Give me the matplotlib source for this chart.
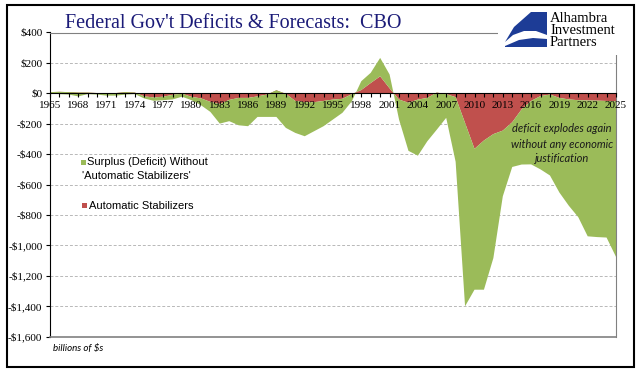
import matplotlib.pyplot as plt
import numpy as np
from matplotlib.patches import Rectangle, Polygon

# fiscal years, billions of $
years = list(range(1965, 2026))

stabilizers = [8, 10, 8, 5, 5, 2, 0, 2, 8, 5,
               -20, -27, -22, -10, -2, -23, -33, -56, -70, -43,
               -30, -30, -20, -8, 20, -3, -50, -58, -58, -50,
               -41, -36, -5, 22, 68, 112, 33, -41, -62, -41,
               -30, 5, -5, -25, -195, -365, -310, -268, -245, -190,
               -105, -50, -18, -8, -30, -40, -45, -47, -48, -50,
               -52]

without_stabilizers = [-11, -15, -16, -25, -10, -10, -15, -17, -16, -10,
                       -14, -22, -23, -30, -20, -22, -45, -66, -129, -140,
                       -180, -186, -135, -147, -175, -224, -210, -224, -191, -166,
                       -131, -92, -47, 58, 67, 121, 91, -131, -316, -369,
                       -285, -244, -156, -425, -1205, -926, -981, -815, -432, -294,
                       -363, -417, -482, -532, -622, -699, -769, -893, -897, -898,
                       -1023]

yticks = list(range(-1600, 401, 200))
year_labels = [str(y) if (y - 1965) % 3 == 0 else '' for y in years]

GREEN = '#9BBB59'
RED = '#C0504D'
NAVY = '#1b1b78'
W, H = 641, 375

def fx(x):
    return x / W

def fy(y):
    return 1 - y / H

fig = plt.figure(figsize=(W / 100, H / 100), dpi=100)
ax = fig.add_axes([fx(50), fy(336.7), (616 - 50) / W, (336.7 - 32.5) / H])
ax.set_axisbelow(False)  # year labels sit on top of the areas

# spine position first, it resets the ticks
ax.spines['bottom'].set_position(('data', 0))
ax.spines['bottom'].set_color('black')
ax.spines['bottom'].set_zorder(4)
ax.spines['left'].set_color('black')
ax.spines['top'].set_color('#808080')
ax.spines['right'].set_color('#808080')

ax.stackplot(years, stabilizers, without_stabilizers, colors=[RED, GREEN],
             linewidth=0, zorder=2)
ax.set_xlim(1965, 2025)
ax.set_ylim(-1600, 400)

for v in yticks:
    if v not in (0, 400, -1600):
        ax.axhline(v, color='#b8b8b8', lw=0.7, ls=(0, (3, 2)), zorder=1)
ax.axhline(-1600, color='#808080', lw=1.2, zorder=3, clip_on=False)

ax.set_yticks(yticks, [f'${v:,}' if v >= 0 else f'-${-v:,}' for v in yticks])
ax.set_xticks(years, year_labels)
ax.tick_params(axis='y', direction='out', length=3, pad=2.5, width=0.8, labelsize=8,
               labelfontfamily='Liberation Serif')
ax.tick_params(axis='x', direction='out', length=3, pad=2.5, width=0.8, labelsize=8,
               labelfontfamily='Liberation Serif')

# title
fig.text(fx(65), fy(28.5), "Federal Gov't Deficits & Forecasts:  CBO", family='Liberation Serif',
         fontsize=14.5, color=NAVY, va='baseline')

# logo box
fig.add_artist(Rectangle((fx(498), fy(55)), 132 / W, 49 / H, transform=fig.transFigure,
                         fc='white', ec='none', zorder=10))
upper = [(531, 12), (547, 12), (547, 35), (536, 31), (524, 31), (513, 35), (505, 42), (514, 27)]
lower = [(505, 47), (547, 47), (547, 39), (533, 38), (519, 40), (505, 46)]
for pts in (upper, lower):
    fig.add_artist(Polygon([(fx(x), fy(y)) for x, y in pts], closed=True, transform=fig.transFigure,
                           fc='#1d3c96', ec='none', zorder=11))
for txt, yb in (('Alhambra', 21.5), ('Investment', 33.5), ('Partners', 46)):
    fig.text(fx(550), fy(yb), txt, family='Liberation Serif', fontsize=10.5, va='baseline', zorder=12)

# legend
fig.add_artist(Rectangle((fx(81), fy(164.5)), 5 / W, 5 / H, transform=fig.transFigure,
                         fc=GREEN, ec='none', zorder=12))
fig.text(fx(87), fy(162), 'Surplus (Deficit) Without', family='Liberation Sans', fontsize=8, va='center')
fig.text(fx(82), fy(176), "'Automatic Stabilizers'", family='Liberation Sans', fontsize=8, va='center')
fig.add_artist(Rectangle((fx(82), fy(208)), 5 / W, 5 / H, transform=fig.transFigure,
                         fc=RED, ec='none', zorder=12))
fig.text(fx(89), fy(205.5), 'Automatic Stabilizers', family='Liberation Sans', fontsize=8, va='center')

# annotation
for txt, yc in (('deficit explodes again', 129), ('without any economic', 144), ('justification', 159)):
    fig.text(fx(562), fy(yc), txt, family='Lato', style='italic', fontsize=8, ha='center', va='center',
             color='#1a1a1a')

fig.text(fx(53), fy(348), 'billions of $s', family='Lato', style='italic', fontsize=7, va='center')

fig.add_artist(Rectangle((fx(7), fy(367)), (634 - 7) / W, (367 - 5) / H, transform=fig.transFigure,
                         fill=False, ec='black', lw=1.5, zorder=20))

fig.savefig('out.png', dpi=100)
